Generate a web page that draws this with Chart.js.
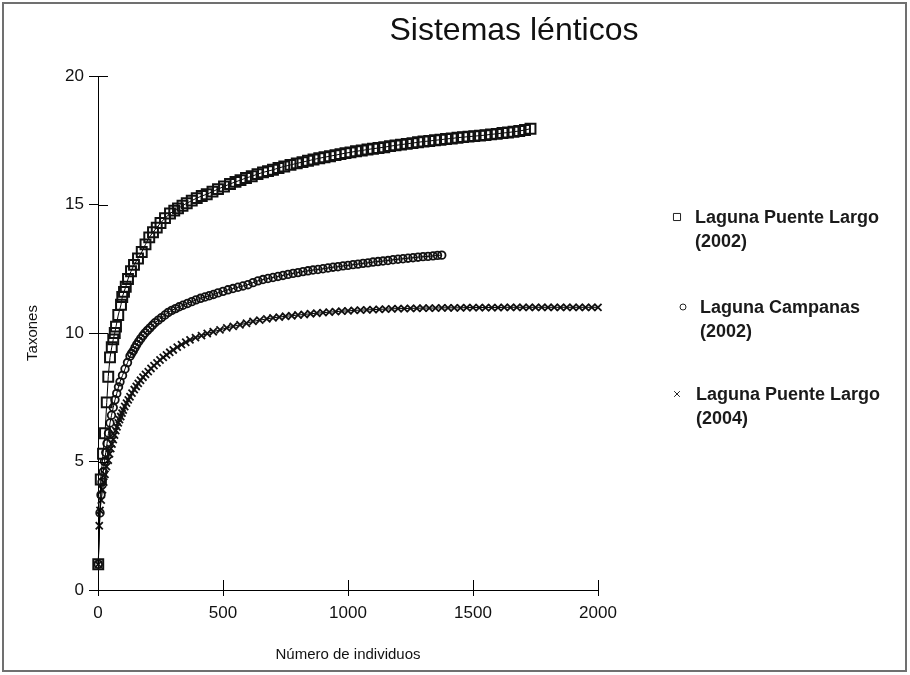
<!DOCTYPE html>
<html>
<head>
<meta charset="utf-8">
<script src="https://cdn.jsdelivr.net/npm/chart.js@4.4.1/dist/chart.umd.min.js"></script>
<style>
  html, body { margin: 0; padding: 0; background: #fff; }
  #wrap { position: relative; width: 910px; height: 675px; }
  #frame {
    position: absolute; left: 2px; top: 2px; width: 905px; height: 670px;
    box-sizing: border-box; border: 2px solid #707070; pointer-events: none;
  }
</style>
</head>
<body>
<div id="wrap">
  <canvas id="chart" width="910" height="675"></canvas>
  <div id="frame"></div>
</div>
<script>
'use strict'

// Laguna Puente Largo (2002)
const nPL2002 = [1, 11, 20, 28, 35, 41, 48, 55, 61, 67,
  72, 81, 92, 97, 104, 111, 120, 132, 144, 160,
  175, 190, 205, 220, 235, 250, 268, 288, 305, 320,
  338, 355, 375, 395, 415, 435, 458, 480, 504, 528,
  550, 570, 592, 615, 638, 660, 680, 700, 722, 745,
  770, 795, 818, 840, 862, 885, 906, 928, 950, 970,
  990, 1010, 1032, 1055, 1078, 1100, 1122, 1145, 1168, 1190,
  1212, 1235, 1258, 1280, 1302, 1325, 1348, 1370, 1392, 1415,
  1438, 1460, 1482, 1505, 1528, 1550, 1572, 1595, 1618, 1640,
  1662, 1685, 1708, 1730]
const sPL2002 = [1.0, 4.3, 5.3, 6.1, 7.3, 8.3, 9.05, 9.45, 9.75, 10.0,
  10.25, 10.7, 11.1, 11.4, 11.6, 11.8, 12.1, 12.4, 12.65, 12.9,
  13.15, 13.45, 13.72, 13.92, 14.1, 14.28, 14.47, 14.65, 14.76, 14.85,
  14.95, 15.05, 15.15, 15.25, 15.33, 15.4, 15.5, 15.6, 15.7, 15.8,
  15.88, 15.95, 16.03, 16.1, 16.18, 16.25, 16.3, 16.35, 16.42, 16.48,
  16.54, 16.6, 16.65, 16.7, 16.75, 16.8, 16.84, 16.88, 16.92, 16.96,
  17.0, 17.03, 17.07, 17.1, 17.14, 17.17, 17.2, 17.23, 17.27, 17.3,
  17.33, 17.36, 17.39, 17.42, 17.45, 17.47, 17.5, 17.52, 17.55, 17.57,
  17.6, 17.62, 17.64, 17.66, 17.68, 17.7, 17.73, 17.75, 17.78, 17.8,
  17.83, 17.86, 17.9, 17.95]

// Laguna Campanas (2002)
const nLC2002 = [1, 8, 12, 16, 21, 26, 31, 36, 42, 48,
  54, 61, 68, 75, 82, 88, 98, 108, 118, 128,
  134, 141, 148, 155, 163, 171, 180, 188, 198, 208,
  218, 228, 241, 254, 268, 281, 295, 310, 325, 340,
  358, 375, 392, 410, 428, 445, 462, 480, 500, 520,
  540, 560, 580, 600, 620, 640, 660, 680, 700, 720,
  740, 760, 780, 800, 820, 840, 860, 880, 900, 920,
  940, 960, 980, 1000, 1020, 1040, 1060, 1080, 1100, 1120,
  1140, 1160, 1180, 1200, 1220, 1240, 1260, 1280, 1300, 1320,
  1340, 1358, 1375]
const sLC2002 = [1.0, 3.0, 3.7, 4.2, 4.6, 5.0, 5.35, 5.7, 6.1, 6.5,
  6.8, 7.1, 7.4, 7.65, 7.9, 8.1, 8.35, 8.6, 8.85, 9.1,
  9.2, 9.3, 9.43, 9.55, 9.67, 9.78, 9.9, 10.0, 10.1, 10.2,
  10.3, 10.4, 10.5, 10.6, 10.7, 10.8, 10.88, 10.95, 11.02, 11.08,
  11.15, 11.22, 11.29, 11.35, 11.4, 11.45, 11.5, 11.56, 11.62, 11.68,
  11.73, 11.78, 11.83, 11.88, 11.96, 12.03, 12.08, 12.12, 12.16, 12.2,
  12.24, 12.28, 12.32, 12.35, 12.39, 12.42, 12.45, 12.47, 12.5, 12.53,
  12.56, 12.58, 12.61, 12.63, 12.66, 12.68, 12.71, 12.73, 12.76, 12.78,
  12.8, 12.82, 12.85, 12.87, 12.89, 12.91, 12.93, 12.95, 12.97, 12.98,
  13.0, 13.02, 13.03]

// Laguna Puente Largo (2004)
const nPL2004 = [1, 5, 8, 13, 18, 23, 28, 34, 41, 46,
  51, 56, 61, 66, 71, 76, 81, 86, 91, 96,
  101, 107, 114, 121, 128, 136, 145, 153, 161, 170,
  180, 190, 201, 212, 224, 236, 248, 261, 274, 287,
  301, 317, 334, 351, 368, 390, 414, 437, 461, 488,
  515, 541, 568, 594, 620, 647, 675, 700, 725, 750,
  775, 800, 825, 850, 875, 900, 925, 950, 975, 1000,
  1025, 1050, 1075, 1100, 1125, 1150, 1175, 1200, 1225, 1250,
  1275, 1300, 1325, 1350, 1375, 1400, 1425, 1450, 1475, 1500,
  1525, 1550, 1575, 1600, 1625, 1650, 1675, 1700, 1725, 1750,
  1775, 1800, 1825, 1850, 1875, 1900, 1925, 1950, 1975, 2000]
const sPL2004 = [1.0, 2.5, 3.1, 3.5, 3.9, 4.2, 4.5, 4.8, 5.05, 5.3,
  5.5, 5.68, 5.85, 6.03, 6.2, 6.35, 6.5, 6.63, 6.75, 6.88,
  7.0, 7.14, 7.27, 7.4, 7.52, 7.66, 7.8, 7.92, 8.04, 8.16,
  8.28, 8.39, 8.5, 8.62, 8.73, 8.84, 8.95, 9.05, 9.15, 9.25,
  9.34, 9.45, 9.55, 9.64, 9.73, 9.82, 9.9, 9.98, 10.05, 10.12,
  10.2, 10.26, 10.32, 10.38, 10.45, 10.5, 10.55, 10.59, 10.62, 10.65,
  10.67, 10.7, 10.72, 10.75, 10.77, 10.79, 10.81, 10.83, 10.85, 10.86,
  10.88, 10.89, 10.9, 10.91, 10.92, 10.93, 10.94, 10.95, 10.95, 10.96,
  10.96, 10.97, 10.97, 10.97, 10.98, 10.98, 10.98, 10.98, 10.99, 10.99,
  10.99, 10.99, 10.99, 10.99, 11, 11, 11, 11, 11, 11,
  11, 11, 11, 11, 11, 11, 11, 11, 11, 11]

const seriesNames = [
  ['Laguna Puente Largo', '(2002)'],
  ['Laguna Campanas', '(2002)'],
  ['Laguna Puente Largo', '(2004)']
]
const xTicks = [0, 500, 1000, 1500, 2000]
const yTicks = [0, 5, 10, 15, 20]

;(() => {
  const FONT = "'Liberation Sans', Arial, sans-serif"
  Chart.defaults.font.family = FONT
  Chart.defaults.color = '#111111'

  const pairs = (xs, ys) => xs.map((x, i) => ({ x, y: ys[i] }))

  const markers = [
    { pointStyle: 'rect', radius: 7, legendRadius: 5, borderWidth: 2 },
    { pointStyle: 'circle', radius: 3.8, legendRadius: 3, borderWidth: 1.8 },
    { pointStyle: 'crossRot', radius: 5, legendRadius: 4, borderWidth: 1.8 }
  ]
  const series = [pairs(nPL2002, sPL2002), pairs(nLC2002, sLC2002), pairs(nPL2004, sPL2004)]

  // title, legend and the inner half of the tick marks
  const decor = {
    id: 'decor',
    afterDraw(chart) {
      const ctx = chart.ctx
      const xs = chart.scales.x
      const ys = chart.scales.y
      ctx.save()
      ctx.strokeStyle = '#000'
      ctx.lineWidth = 1
      ctx.beginPath()
      yTicks.forEach((v) => {
        const py = Math.round(ys.getPixelForValue(v)) + 0.5
        ctx.moveTo(xs.left, py)
        ctx.lineTo(xs.left + 10, py)
      })
      xTicks.forEach((v) => {
        const px = Math.round(xs.getPixelForValue(v)) + 0.5
        ctx.moveTo(px, ys.bottom)
        ctx.lineTo(px, ys.bottom - 10)
      })
      ctx.stroke()

      ctx.fillStyle = '#111'
      ctx.font = '32px ' + FONT
      ctx.textAlign = 'center'
      ctx.textBaseline = 'alphabetic'
      ctx.fillText('Sistemas lénticos', 514, 40)

      const entries = [
        { mx: 677, my: 217, tx: 695, ty: 223 },
        { mx: 683, my: 307, tx: 700, ty: 313 },
        { mx: 677, my: 394, tx: 696, ty: 400 }
      ]
      entries.forEach((e, i) => {
        const m = markers[i]
        ctx.fillStyle = '#fff'
        ctx.strokeStyle = '#222'
        ctx.lineWidth = 1
        Chart.helpers.drawPoint(ctx, { pointStyle: m.pointStyle, radius: m.legendRadius, borderWidth: 1, rotation: 0 }, e.mx, e.my)
        ctx.fillStyle = '#1a1a1a'
        ctx.font = 'bold 18px ' + FONT
        ctx.textAlign = 'left'
        ctx.fillText(seriesNames[i][0], e.tx, e.ty)
        ctx.fillText(seriesNames[i][1], e.tx, e.ty + 24)
      })
      ctx.restore()
    }
  }

  new Chart(document.getElementById('chart'), {
    type: 'scatter',
    data: {
      datasets: series.map((data, i) => ({
        label: seriesNames[i].join(' '),
        data,
        showLine: true,
        borderColor: '#000',
        borderWidth: 1,
        pointStyle: markers[i].pointStyle,
        pointRadius: markers[i].radius,
        pointBorderWidth: markers[i].borderWidth,
        pointBorderColor: '#111',
        pointBackgroundColor: 'rgba(255,255,255,0)',
        clip: false
      }))
    },
    options: {
      responsive: false,
      animation: false,
      layout: {
        padding: { top: 76, right: 312, bottom: 0, left: 0 }
      },
      scales: {
        x: {
          type: 'linear',
          min: 0,
          max: 2000,
          afterBuildTicks: (s) => { s.ticks = xTicks.map((value) => ({ value })) },
          afterFit: (s) => { s.height = 85 },
          grid: { display: true, drawOnChartArea: false, drawTicks: true, tickLength: 6, color: '#000' },
          border: { display: true, color: '#000', width: 1 },
          ticks: { font: { size: 17 }, padding: 7, maxRotation: 0, callback: (v) => String(v) },
          title: {
            display: true,
            text: 'Número de individuos',
            font: { size: 15 },
            padding: { top: 0, bottom: 11 }
          }
        },
        y: {
          type: 'linear',
          min: 0,
          max: 20,
          afterBuildTicks: (s) => { s.ticks = yTicks.map((value) => ({ value })) },
          afterFit: (s) => { s.width = 98 },
          grid: { display: true, drawOnChartArea: false, drawTicks: true, tickLength: 9, color: '#000' },
          border: { display: true, color: '#000', width: 1 },
          ticks: { font: { size: 17 }, padding: 5, callback: (v) => String(v) },
          title: {
            display: true,
            text: 'Taxones',
            font: { size: 15 },
            padding: { top: 24, bottom: 0 }
          }
        }
      },
      plugins: {
        legend: { display: false },
        tooltip: { enabled: false }
      }
    },
    plugins: [decor]
  })
})()
</script>
</body>
</html>
